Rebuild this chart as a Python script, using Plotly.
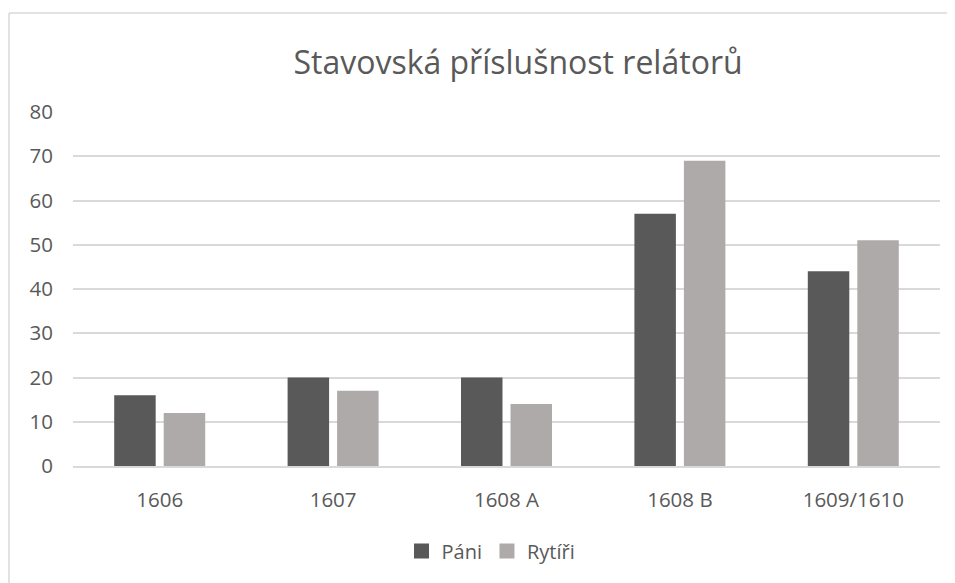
import plotly.graph_objects as go

categories = ["1606", "1607", "1608 A", "1608 B", "1609/1610"]
series_names = ["Páni", "Rytíři"]
pani = [16, 20, 20, 57, 44]
rytiri = [12, 17, 14, 69, 51]
y_ticks = [0, 10, 20, 30, 40, 50, 60, 70, 80]
colors = ["#595959", "#AEAAAA"]

# page has an 8px body margin, so the figure is placed 8px in and shrunk by 8px
W, H = 947, 575
L, T = 65, 104
pw, ph = 867, 354
R, B = W - L - pw, H - T - ph

fig = go.Figure()
for name, vals, col in zip(series_names, [pani, rytiri], colors):
    fig.add_trace(go.Bar(name=name, x=categories, y=vals, showlegend=False,
                         marker=dict(color=col, line=dict(width=0))))
# legend entries with larger square swatches
for name, col in zip(series_names, colors):
    fig.add_trace(go.Scatter(name=name, x=[None], y=[None], mode="markers",
                             marker=dict(symbol="square", size=15, color=col), showlegend=True))

font_family = "Open Sans, Noto Sans, sans-serif"
fig.update_layout(
    width=W, height=H,
    margin=dict(l=L, r=R, t=T, b=B),
    paper_bgcolor="white", plot_bgcolor="white",
    barmode="group", bargap=0.429, bargroupgap=0.162,
    font=dict(family=font_family, color="#595959", size=20),
    title=dict(text="Stavovská příslušnost relátorů", xref="paper", x=(510 - L) / pw, xanchor="center",
               y=1 - 55 / H, yanchor="middle",
               font=dict(size=32, color="#595959", family=font_family)),
    legend=dict(orientation="h", x=(483 - L) / pw, xanchor="center", y=-(543 - (T + ph)) / ph, yanchor="middle",
                font=dict(size=20, color="#595959"), itemwidth=30, traceorder="normal"),
    showlegend=True,
)
fig.update_xaxes(showgrid=False, showline=True, linecolor="#D9D9D9", linewidth=1.5,
                 ticks="", tickfont=dict(size=20.5, color="#595959"), ticklabelstandoff=15)
fig.update_yaxes(range=[0, 80], tickvals=y_ticks, showgrid=True, gridcolor="#D9D9D9", gridwidth=1.5,
                 zeroline=False, showline=False, ticks="", tickfont=dict(size=20.5, color="#595959"),
                 ticklabelstandoff=19)

# outer chart border (only left and top edges are inside the picture)
bx = (1 - L) / pw
by = 1 + (T - 5) / ph
fig.add_shape(type="line", xref="paper", yref="paper", x0=bx, x1=bx, y0=by, y1=-(H + 20 - T - ph) / ph,
              line=dict(color="#D9D9D9", width=1.5), layer="below")
fig.add_shape(type="line", xref="paper", yref="paper", x0=bx, x1=(W + 20 - L) / pw, y0=by, y1=by,
              line=dict(color="#D9D9D9", width=1.5), layer="below")

fig.write_html("out.html")
